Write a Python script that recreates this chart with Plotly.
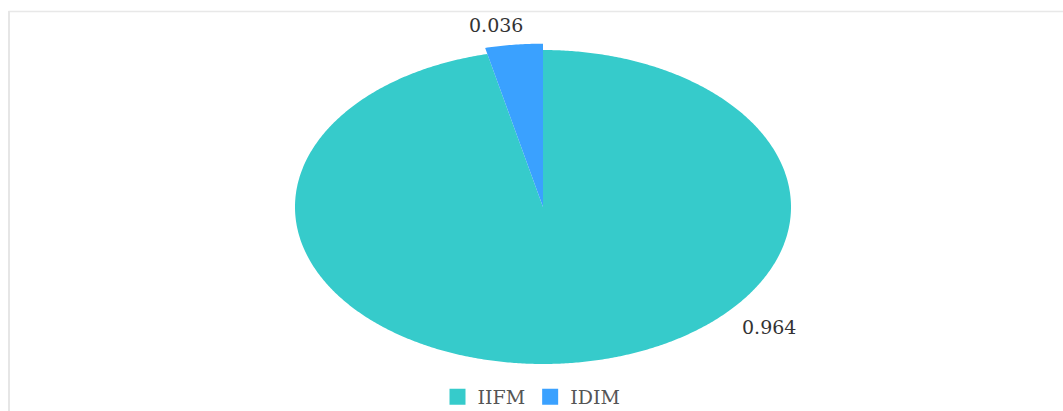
import numpy as np
import plotly.graph_objects as go

categories = ["IIFM", "IDIM"]
values = [0.964, 0.036]
colors = ["#36CBCB", "#3AA1FF"]
radii = [1.0, 1.04]
label_pos = [(0.794, -0.764), (-0.073, 1.159)]  # label anchor positions (unit-ellipse coords)
label_anchor = ["left", "right"]

W, H = 1063, 411
cx, cy, rx, ry = 543, 207, 248, 157
SERIF = "DejaVu Serif, Liberation Serif, serif"

fig = go.Figure()
total = sum(values)
start = 0.0
for cat, val, col, r in zip(categories, values, colors, radii):
    span = val / total * 2 * np.pi
    th = np.linspace(start, start + span, max(int(span * 120), 8))
    xs = np.concatenate([[0], r * np.sin(th), [0]])
    ys = np.concatenate([[0], r * np.cos(th), [0]])
    fig.add_trace(go.Scatter(x=xs, y=ys, fill="toself", fillcolor=col, mode="none",
                             name=cat, showlegend=False, hoverinfo="name"))
    start += span

for cat, col in zip(categories, colors):
    fig.add_trace(go.Scatter(x=[None], y=[None], mode="markers", name=cat,
                             marker=dict(symbol="square", size=17, color=col)))

for val, (lx, ly), anc in zip(values, label_pos, label_anchor):
    fig.add_annotation(x=lx, y=ly, text=f"{val}", showarrow=False, xanchor=anc,
                       font=dict(family=SERIF, size=19, color="#333"))

fig.update_xaxes(range=[-cx / rx, (W - cx) / rx], visible=False, fixedrange=True)
fig.update_yaxes(range=[(cy - H) / ry, cy / ry], visible=False, fixedrange=True)

fig.add_shape(type="line", xref="paper", yref="paper", x0=8.5 / W, x1=1, y0=1 - 11.5 / H, y1=1 - 11.5 / H,
              line=dict(color="#e8e8e8", width=1.5))
fig.add_shape(type="line", xref="paper", yref="paper", x0=9 / W, x1=9 / W, y0=0, y1=1 - 11 / H,
              line=dict(color="#e6e6e6", width=2))

fig.update_layout(
    width=W, height=H, margin=dict(l=0, r=0, t=0, b=0, autoexpand=False),
    paper_bgcolor="white", plot_bgcolor="white",
    legend=dict(orientation="h", x=0.5, xanchor="center", y=1 - 397 / H, yanchor="middle",
                font=dict(family=SERIF, size=19, color="#555"),
                itemwidth=30, tracegroupgap=0),
)

fig.write_html("out.html")
